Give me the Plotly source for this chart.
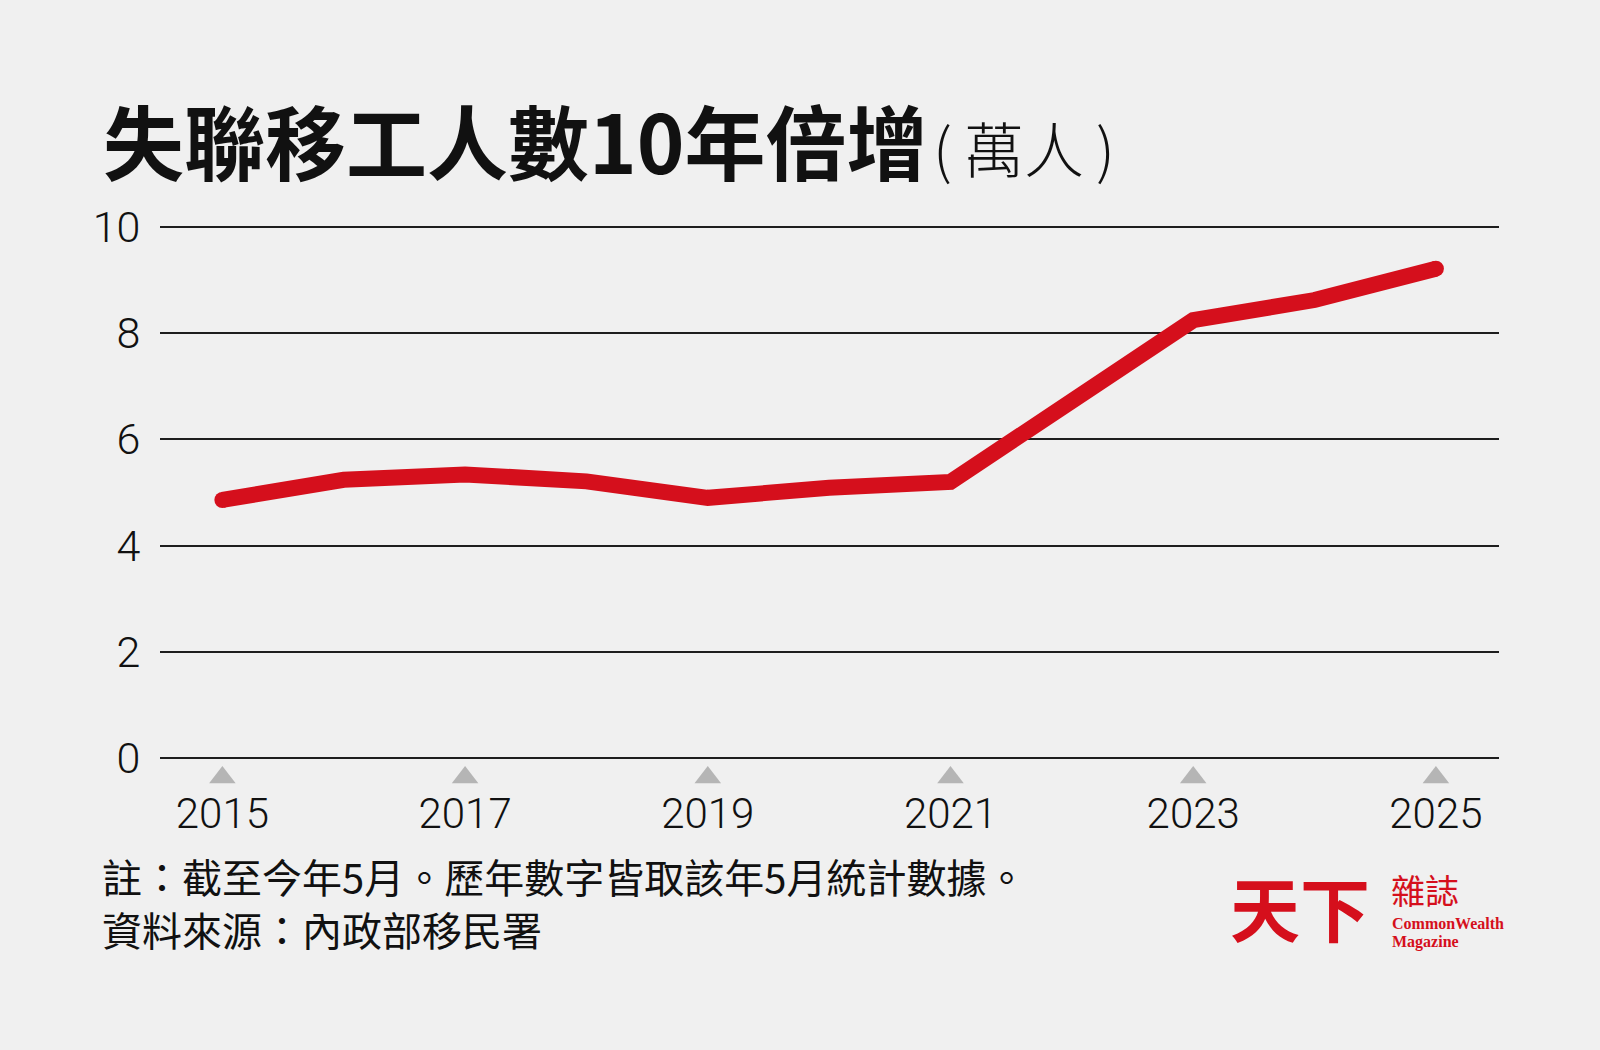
import plotly.graph_objects as go

# ---- data ----
years = [2015, 2016, 2017, 2018, 2019, 2020, 2021, 2022, 2023, 2024, 2025]
values = [4.86, 5.24, 5.34, 5.21, 4.90, 5.09, 5.20, 6.68, 8.24, 8.62, 9.21]
y_ticks = [0, 2, 4, 6, 8, 10]
x_ticks = [2015, 2017, 2019, 2021, 2023, 2025]
x_tick_labels = ["2015", "2017", "2019", "2021", "2023", "2025"]

title_text = "失聯移工人數10年倍增"
unit_text = "(\u2009萬人\u2009)"
note_text = "註：截至今年5月。歷年數字皆取該年5月統計數據。"
source_text = "資料來源：內政部移民署"

# ---- layout geometry ----
W, H = 1600, 1050
Y_RANGE = [-0.5, 10.2]
X_RANGE = [2014.486, 2025.52]
Y0_PX, PER_UNIT = 758.0, 53.15
L, R = 160, 101
T = Y0_PX - Y_RANGE[1] * PER_UNIT
B = H - (Y0_PX - Y_RANGE[0] * PER_UNIT)
pw, ph = W - L - R, H - T - B


def px_x(px):
    return (px - L) / pw


def px_y(py):
    return (H - B - py) / ph


RED = "#d50f1c"
BG = "#f0f0f0"
TXT = "#111111"
NUM_FONT = "Roboto, sans-serif"
CJK = "Noto Sans CJK TC"

tri_y = (Y0_PX - 777.0) / PER_UNIT

fig = go.Figure()

fig.add_trace(go.Scatter(
    x=years, y=values, mode="lines",
    line=dict(color=RED, width=16),
    hoverinfo="skip", showlegend=False,
))
fig.add_trace(go.Scatter(
    x=[years[0], years[-1]], y=[values[0], values[-1]], mode="markers",
    marker=dict(color=RED, size=16, line=dict(width=0)),
    hoverinfo="skip", showlegend=False,
))
fig.add_trace(go.Scatter(
    x=x_ticks, y=[tri_y] * len(x_ticks), mode="markers",
    marker=dict(symbol="triangle-up", color="#b5b5b5", size=23, line=dict(width=0)),
    cliponaxis=False, hoverinfo="skip", showlegend=False,
))

annotations = [
    dict(x=px_x(101), y=px_y(138), xref="paper", yref="paper",
         text="<b>" + title_text + "</b>", showarrow=False,
         xanchor="left", yanchor="middle",
         font=dict(family=CJK, size=81, color=TXT, weight=700)),
    dict(x=px_x(931), y=px_y(146), xref="paper", yref="paper",
         text=unit_text, showarrow=False,
         xanchor="left", yanchor="middle",
         font=dict(family=CJK, size=60, color=TXT, weight=300)),
    dict(x=px_x(100), y=px_y(876), xref="paper", yref="paper",
         text=note_text, showarrow=False,
         xanchor="left", yanchor="middle",
         font=dict(family=CJK, size=40, color=TXT)),
    dict(x=px_x(100), y=px_y(929), xref="paper", yref="paper",
         text=source_text, showarrow=False,
         xanchor="left", yanchor="middle",
         font=dict(family=CJK, size=40, color=TXT)),
    # logo
    dict(x=px_x(1228), y=px_y(906), xref="paper", yref="paper",
         text="<b>天下</b>", showarrow=False,
         xanchor="left", yanchor="middle",
         font=dict(family=CJK, size=70, color=RED, weight=900)),
    dict(x=px_x(1389), y=px_y(889), xref="paper", yref="paper",
         text="雜誌", showarrow=False,
         xanchor="left", yanchor="middle",
         font=dict(family=CJK, size=34, color=RED)),
    dict(x=px_x(1390), y=px_y(923), xref="paper", yref="paper",
         text="<b>CommonWealth</b>", showarrow=False,
         xanchor="left", yanchor="middle",
         font=dict(family="Liberation Serif", size=16, color=RED)),
    dict(x=px_x(1390), y=px_y(941), xref="paper", yref="paper",
         text="<b>Magazine</b>", showarrow=False,
         xanchor="left", yanchor="middle",
         font=dict(family="Liberation Serif", size=16, color=RED)),
]

fig.update_layout(
    width=W, height=H,
    margin=dict(l=L, r=R, t=T, b=B, pad=0),
    paper_bgcolor=BG, plot_bgcolor=BG,
    showlegend=False,
    annotations=annotations,
    xaxis=dict(
        range=X_RANGE, showgrid=False, zeroline=False, showline=False,
        tickmode="array", tickvals=x_ticks, ticktext=x_tick_labels,
        ticks="", ticklen=0,
        tickfont=dict(family=NUM_FONT, size=42, color=TXT, weight=300),
        fixedrange=True,
    ),
    yaxis=dict(
        range=Y_RANGE, showgrid=True, gridcolor="#1e1e1e", gridwidth=1.5,
        zeroline=False, showline=False,
        tickmode="array", tickvals=y_ticks,
        ticktext=[str(v) for v in y_ticks],
        ticks="outside", ticklen=10, tickcolor="rgba(0,0,0,0)",
        tickfont=dict(family=NUM_FONT, size=43, color=TXT, weight=300),
        fixedrange=True,
    ),
)

fig.write_html("out.html", config={"displayModeBar": False})
